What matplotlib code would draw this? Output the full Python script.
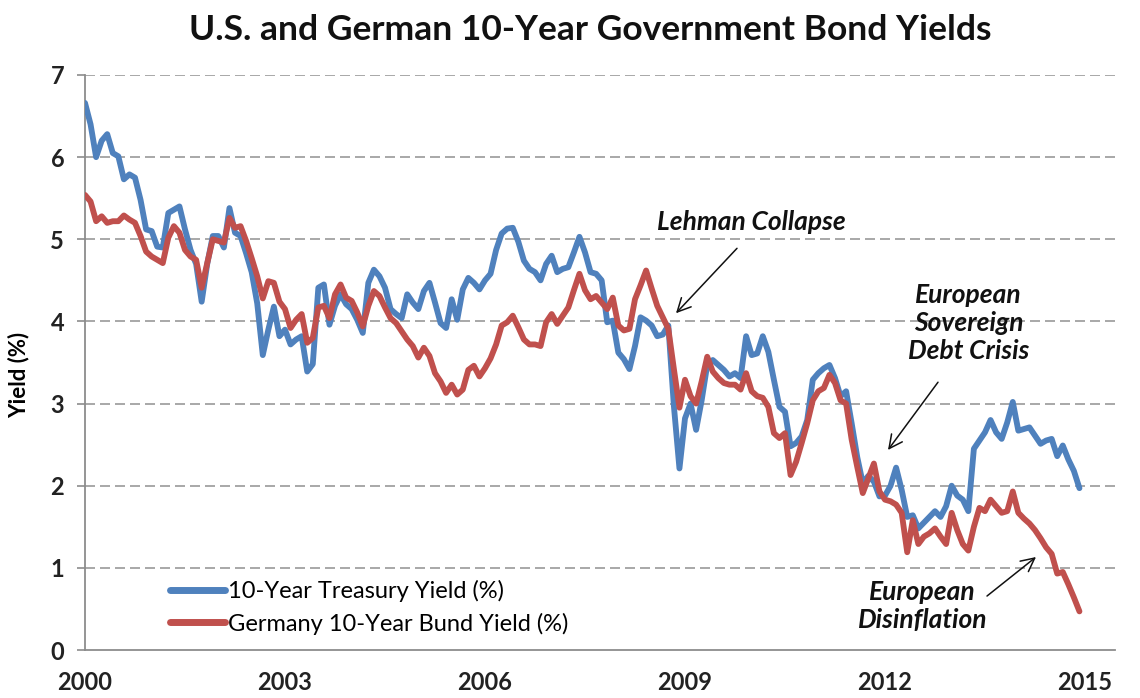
import numpy as np
import matplotlib
matplotlib.use("Agg")
import matplotlib.pyplot as plt

# Month-end 10-year yields, Jan 2000 - Dec 2014 (%)
us_treasury = [
    6.66, 6.40, 6.00, 6.20, 6.28, 6.05, 6.01, 5.73, 5.79, 5.75, 5.48, 5.12,
    5.10, 4.91, 4.90, 5.32, 5.36, 5.40, 5.12, 4.87, 4.70, 4.24, 4.70, 5.04,
    5.04, 4.90, 5.38, 5.08, 5.04, 4.83, 4.60, 4.22, 3.59, 3.90, 4.18, 3.82,
    3.90, 3.72, 3.78, 3.82, 3.39, 3.48, 4.41, 4.45, 3.96, 4.19, 4.33, 4.21,
    4.15, 4.02, 3.86, 4.47, 4.63, 4.55, 4.41, 4.15, 4.09, 4.04, 4.33, 4.23,
    4.15, 4.37, 4.47, 4.23, 3.98, 3.92, 4.27, 4.02, 4.39, 4.53, 4.47, 4.39,
    4.50, 4.58, 4.87, 5.07, 5.13, 5.14, 4.97, 4.74, 4.64, 4.60, 4.50, 4.70,
    4.80, 4.60, 4.64, 4.66, 4.84, 5.03, 4.84, 4.60, 4.58, 4.50, 3.99, 4.01,
    3.62, 3.54, 3.42, 3.70, 4.05, 4.01, 3.95, 3.82, 3.84, 3.95, 2.97, 2.21,
    2.82, 3.00, 2.68, 3.04, 3.47, 3.53, 3.47, 3.41, 3.33, 3.37, 3.31, 3.82,
    3.59, 3.61, 3.82, 3.63, 3.29, 2.96, 2.90, 2.48, 2.52, 2.60, 2.80, 3.29,
    3.37, 3.43, 3.47, 3.31, 3.09, 3.15, 2.76, 2.35, 2.03, 2.12, 2.05, 1.87,
    1.88, 2.00, 2.22, 1.95, 1.62, 1.64, 1.48, 1.55, 1.62, 1.69, 1.62, 1.75,
    2.00, 1.88, 1.83, 1.69, 2.45, 2.55, 2.65, 2.80, 2.65, 2.57, 2.77, 3.02,
    2.67, 2.69, 2.71, 2.61, 2.51, 2.55, 2.57, 2.36, 2.49, 2.32, 2.18, 1.97,
]

german_bund = [
    5.54, 5.46, 5.22, 5.28, 5.20, 5.22, 5.22, 5.29, 5.24, 5.20, 5.04, 4.85,
    4.79, 4.75, 4.71, 5.02, 5.16, 5.08, 4.87, 4.79, 4.75, 4.41, 4.71, 5.00,
    4.98, 4.96, 5.26, 5.14, 5.16, 4.98, 4.77, 4.55, 4.28, 4.49, 4.47, 4.24,
    4.15, 3.92, 4.02, 4.09, 3.74, 3.80, 4.17, 4.19, 4.04, 4.33, 4.45, 4.29,
    4.25, 4.11, 3.94, 4.19, 4.37, 4.31, 4.17, 4.04, 3.98, 3.88, 3.78, 3.70,
    3.56, 3.68, 3.58, 3.37, 3.27, 3.13, 3.23, 3.11, 3.17, 3.41, 3.46, 3.33,
    3.43, 3.55, 3.72, 3.95, 3.99, 4.07, 3.93, 3.78, 3.72, 3.72, 3.70, 3.99,
    4.09, 3.97, 4.07, 4.17, 4.38, 4.58, 4.38, 4.27, 4.31, 4.23, 4.15, 4.29,
    3.95, 3.89, 3.91, 4.27, 4.44, 4.62, 4.40, 4.19, 4.05, 3.91, 3.42, 2.95,
    3.29, 3.09, 3.00, 3.27, 3.57, 3.39, 3.31, 3.25, 3.23, 3.23, 3.17, 3.37,
    3.15, 3.09, 3.07, 2.96, 2.64, 2.58, 2.64, 2.13, 2.29, 2.52, 2.76, 3.04,
    3.15, 3.19, 3.35, 3.25, 3.04, 3.00, 2.56, 2.23, 1.91, 2.09, 2.27, 1.93,
    1.83, 1.81, 1.77, 1.67, 1.19, 1.58, 1.29, 1.38, 1.42, 1.48, 1.38, 1.29,
    1.67, 1.46, 1.29, 1.21, 1.50, 1.73, 1.69, 1.83, 1.75, 1.67, 1.69, 1.93,
    1.67, 1.60, 1.54, 1.46, 1.36, 1.25, 1.17, 0.93, 0.95, 0.80, 0.64, 0.47,
]

start_year = 2000
year_ticks = [2000, 2003, 2006, 2009, 2012, 2015]
yield_ticks = [0, 1, 2, 3, 4, 5, 6, 7]

series_labels = ["10-Year Treasury Yield (%)", "Germany 10-Year Bund Yield (%)"]
title = "U.S. and German 10-Year Government Bond Yields"

plt.rcParams["font.family"] = ["Lato", "DejaVu Sans"]

dates = start_year + np.arange(len(us_treasury)) / 12.0

fig = plt.figure(figsize=(11.4, 6.98), dpi=100)
ax = fig.add_axes([85 / 1140, 1 - 650 / 698, (1115 - 85) / 1140, (650 - 75) / 698])

blue = "#4F81BD"
red = "#C0504D"
ax.plot(dates, us_treasury, color=blue, lw=4.2, solid_joinstyle="round",
        solid_capstyle="round", label=series_labels[0], zorder=3)
ax.plot(dates, german_bund, color=red, lw=4.2, solid_joinstyle="round",
        solid_capstyle="round", label=series_labels[1], zorder=4)

ax.set_xlim(2000, 2015.45)
ax.set_ylim(0, 7)
ax.set_xticks(year_ticks)
ax.set_xticklabels([str(y) for y in year_ticks])
ax.set_yticks(yield_ticks)

# dashed horizontal gridlines above zero
for v in yield_ticks[1:]:
    ax.axhline(v, color="#9A9A9A", lw=1.2, ls=(0, (6, 3)), zorder=1)

for side in ("top", "right"):
    ax.spines[side].set_visible(False)
for side in ("left", "bottom"):
    ax.spines[side].set_color("#8C8C8C")
    ax.spines[side].set_linewidth(1.3)

ax.tick_params(axis="y", direction="out", length=6, width=1.2, color="#8C8C8C",
               labelsize=17, pad=9)
ax.tick_params(axis="x", length=0, labelsize=17, pad=15)
for lbl in ax.get_yticklabels() + ax.get_xticklabels():
    lbl.set_fontweight("bold")
    lbl.set_color("#222222")

ax.set_ylabel("Yield (%)", fontsize=16, fontweight="bold")
ax.yaxis.set_label_coords(-0.054, 0.478)

fig.text(590 / 1140, 1 - 30 / 698, title, ha="center", va="center",
         fontsize=25.5, fontweight="bold", color="#111111")

leg = ax.legend(loc="lower left", bbox_to_anchor=(0.066, -0.002), frameon=False,
                fontsize=17, handlelength=2.35, handletextpad=0.12,
                labelspacing=0.45, borderaxespad=0.3)
for line in leg.get_lines():
    line.set_linewidth(5)

ann_kw = dict(fontsize=19, fontweight="bold", fontstyle="italic", color="#111111",
              ha="center", va="center", linespacing=1.2)
arrow_kw = dict(arrowstyle="->", color="#111111", lw=1.1, mutation_scale=24,
                shrinkA=0, shrinkB=0)

ax.text(2010.0, 5.21, "Lehman Collapse", **ann_kw)
ax.annotate("", xy=(2008.865, 4.10), xytext=(2009.78, 4.89), arrowprops=arrow_kw)

ax.text(2013.25, 3.98, "European\nSovereign\nDebt Crisis", **ann_kw)
ax.annotate("", xy=(2012.045, 2.435), xytext=(2012.795, 3.26), arrowprops=arrow_kw)

ax.text(2012.56, 0.54, "European\nDisinflation", **ann_kw)
ax.annotate("", xy=(2014.265, 1.132), xytext=(2013.53, 0.657), arrowprops=arrow_kw)

fig.savefig("out.png", dpi=100)
